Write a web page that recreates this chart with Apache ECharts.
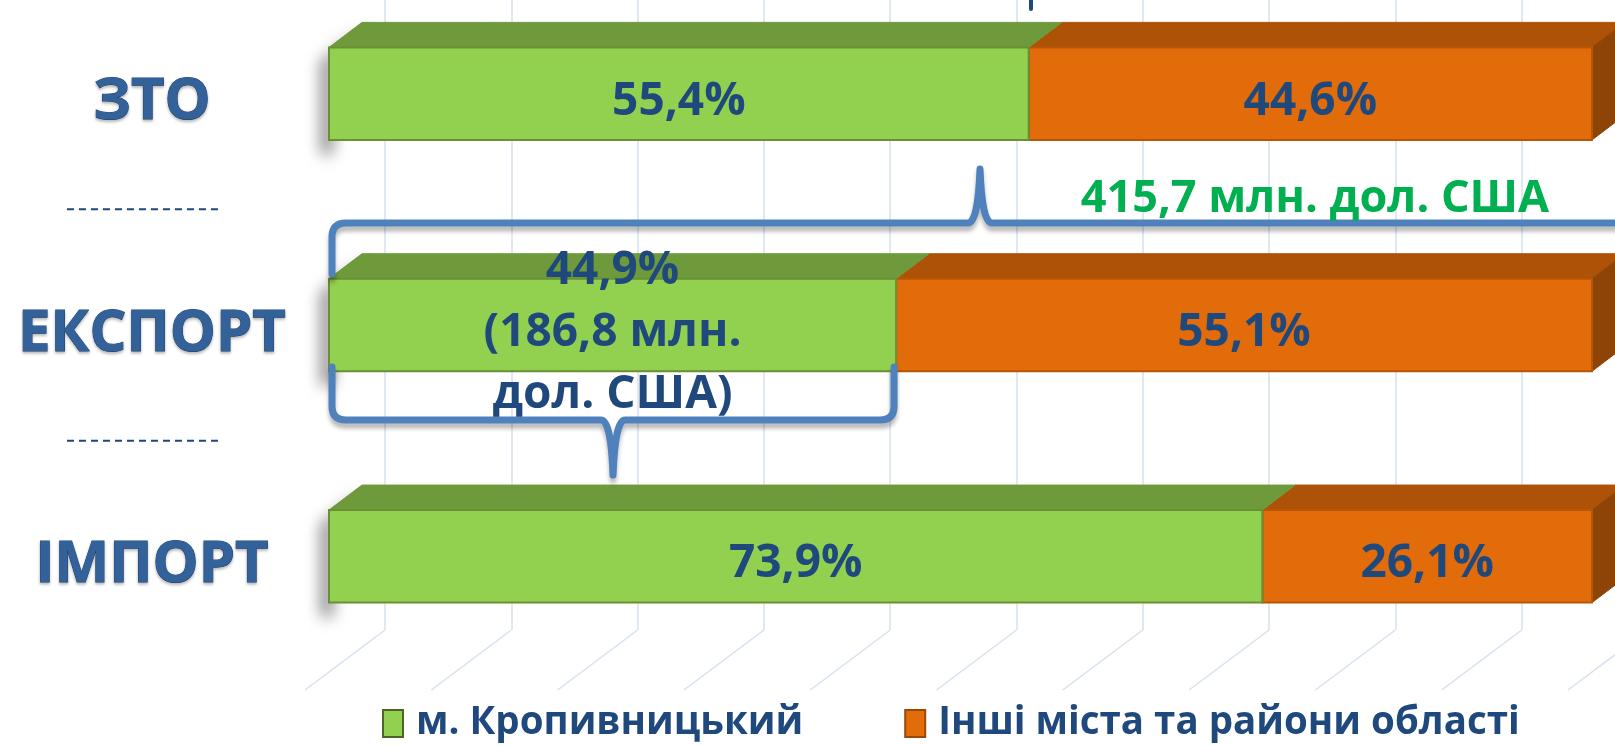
<!DOCTYPE html>
<html>
<head>
<meta charset="utf-8">
<script src="https://cdn.jsdelivr.net/npm/echarts@6/dist/echarts.min.js"></script>
<style>
  html, body { margin: 0; padding: 0; background: #fff; }
  #chart { width: 1615px; height: 746px; }
</style>
</head>
<body>
<div id="chart"></div>
<script>
// Дані діаграми
const categories = ['ЗТО', 'ЕКСПОРТ', 'ІМПОРТ'];
const seriesNames = ['м. Кропивницький', 'Інші міста та райони області'];
const cityShare = [55.4, 44.9, 73.9];
const otherShare = [44.6, 55.1, 26.1];
const exportCityAmount = 186.8;   // млн. дол. США
const exportTotal = 415.7;        // млн. дол. США
const gridTicks = [0, 10, 20, 30, 40, 50, 60, 70, 80, 90, 100];

const FONT = '"Open Sans", "Noto Sans", sans-serif';
const DEPTH_X = 33, DEPTH_Y = 25;

const faces = [
    { front: '#92d050', top: '#6f9a3b', side: '#5f8630', border: '#6a8f34' },
    { front: '#e26b0a', top: '#ad5206', side: '#8e4406', border: '#b85608' }
];

function fmt(v) {
    return v.toFixed(1).replace('.', ',');
}

function labelFor(serieIdx, catIdx, value) {
    if (serieIdx === 0 && categories[catIdx] === 'ЕКСПОРТ') {
        return fmt(value) + '%\n(' + fmt(exportCityAmount) + ' млн.\nдол. США)';
    }
    return fmt(value) + '%';
}

// 3D-сегмент смуги: фронт, верх, бокова грань
function makeRender(serieIdx, isLast) {
    const c = faces[serieIdx];
    return function (params, api) {
        const start = api.value(0), end = api.value(1), cat = api.value(2);
        const p0 = api.coord([start, cat]);
        const p1 = api.coord([end, cat]);
        const h = api.size([0, 1])[1] * 0.4;
        const x0 = p0[0], x1 = p1[0];
        const yT = p0[1] - h / 2, yB = p0[1] + h / 2;
        const children = [];
        if (start === 0) {
            // м'яка тінь зліва
            children.push({
                type: 'polygon',
                shape: { points: [[x0, yT], [x0 + DEPTH_X, yT - DEPTH_Y], [x0 + DEPTH_X + 10, yT - DEPTH_Y], [x0 + 10, yT], [x0 + 10, yB], [x0, yB]] },
                style: { fill: c.top, shadowBlur: 16, shadowColor: 'rgba(0,0,0,0.6)', shadowOffsetX: -7, shadowOffsetY: 14 }
            });
        }
        children.push({
            type: 'polygon',
            shape: { points: [[x0, yT], [x1, yT], [x1 + DEPTH_X, yT - DEPTH_Y], [x0 + DEPTH_X, yT - DEPTH_Y]] },
            style: { fill: c.top, stroke: c.top, lineWidth: 1 }
        });
        if (isLast) {
            children.push({
                type: 'polygon',
                shape: { points: [[x1, yT], [x1 + DEPTH_X, yT - DEPTH_Y], [x1 + DEPTH_X, yB - DEPTH_Y], [x1, yB]] },
                style: { fill: c.side, stroke: c.side, lineWidth: 1 }
            });
        }
        children.push({
            type: 'rect',
            shape: { x: x0, y: yT, width: x1 - x0, height: h },
            style: { fill: c.front, stroke: c.border, lineWidth: 2 }
        });
        children.push({
            type: 'text',
            style: {
                text: labelFor(serieIdx, cat, api.value(3)),
                x: (x0 + x1) / 2, y: p0[1] + 8,
                align: 'center', verticalAlign: 'middle',
                fontSize: 46, fontWeight: 'bold', fontFamily: FONT,
                lineHeight: 62, fill: '#1f497d'
            }
        });
        return { type: 'group', children: children };
    };
}

// фігурна дужка: [початок, кінець, категорія, напрям]
function bracePath(x0, x1, yEnd, yH, yTip) {
    const s = yEnd > yH ? 1 : -1, r = 14, xm = (x0 + x1) / 2;
    return 'M' + x0 + ' ' + yEnd + ' L' + x0 + ' ' + (yH + s * r) +
        ' Q' + x0 + ' ' + yH + ' ' + (x0 + r) + ' ' + yH +
        ' L' + (xm - 12) + ' ' + yH +
        ' Q' + (xm - 2) + ' ' + yH + ' ' + xm + ' ' + yTip +
        ' Q' + (xm + 2) + ' ' + yH + ' ' + (xm + 12) + ' ' + yH +
        ' L' + (x1 - r) + ' ' + yH +
        ' Q' + x1 + ' ' + yH + ' ' + x1 + ' ' + (yH + s * r) +
        ' L' + x1 + ' ' + yEnd;
}

function renderBrace(params, api) {
    const start = api.value(0), end = api.value(1), cat = api.value(2), dir = api.value(3);
    const p0 = api.coord([start, cat]);
    const p1 = api.coord([end, cat]);
    const x0 = p0[0] + 3;
    const x1 = end >= 100 ? p1[0] + 36 : p1[0] - 2;
    const yc = p0[1];
    const d = dir < 0
        ? bracePath(x0, x1, yc - 51, yc - 102, yc - 156)
        : bracePath(x0, x1, yc + 42, yc + 95, yc + 150);
    return {
        type: 'path',
        shape: { pathData: d },
        style: {
            stroke: '#4f81bd', lineWidth: 7, fill: null, lineCap: 'round', lineJoin: 'round',
            shadowColor: 'rgba(0,0,0,0.28)', shadowBlur: 4, shadowOffsetY: 5
        }
    };
}

const cityData = categories.map((_, i) => [0, cityShare[i], i, cityShare[i]]);
const otherData = categories.map((_, i) => [cityShare[i], cityShare[i] + otherShare[i], i, otherShare[i]]);
const exportIdx = categories.indexOf('ЕКСПОРТ');
const braceData = [
    [0, cityShare[exportIdx] + otherShare[exportIdx], exportIdx, -1],
    [0, cityShare[exportIdx], exportIdx, 1]
];

const chart = echarts.init(document.getElementById('chart'));

chart.setOption({
    backgroundColor: '#ffffff',
    animation: false,
    grid: [
        { left: 329, width: 1263, top: -22, height: 694, outerBoundsMode: 'none' },
        { left: 385, width: 1263, top: 0, height: 630, outerBoundsMode: 'none' }
    ],
    xAxis: [
        { gridIndex: 0, type: 'value', min: 0, max: 100, show: false },
        {
            gridIndex: 1, type: 'value', min: 0, max: 100, interval: 10,
            axisLine: { show: false }, axisTick: { show: false }, axisLabel: { show: false },
            splitLine: { show: true, lineStyle: { color: '#d6e1f0', width: 1.5 } }
        }
    ],
    yAxis: [
        {
            gridIndex: 0, type: 'category', inverse: true, data: categories,
            axisLine: { show: false }, axisTick: { show: false },
            axisLabel: {
                margin: 177, align: 'center',
                formatter: v => '{c|' + v + '}',
                rich: {
                    c: {
                        padding: [18, 0, 0, 0], align: 'center',
                        fontSize: 58, fontWeight: 'bold', fontFamily: FONT,
                        color: '#33619a', textBorderColor: '#234a78', textBorderWidth: 1,
                        textShadowColor: 'rgba(0,0,0,0.25)', textShadowBlur: 3, textShadowOffsetY: 2
                    }
                }
            }
        },
        { gridIndex: 1, type: 'value', min: 0, max: 1, show: false }
    ],
    legend: {
        left: 377, top: 699,
        itemWidth: 20, itemHeight: 27, itemGap: 101, icon: 'rect',
        textStyle: { fontSize: 38.5, fontWeight: 'bold', color: '#1f497d', fontFamily: FONT, padding: [0, 0, 0, 8] },
        data: seriesNames
    },
    series: [
        {
            name: 'floor', type: 'custom', xAxisIndex: 1, yAxisIndex: 1, clip: false, silent: true, z: 1,
            data: gridTicks.map(v => [v]),
            renderItem: function (params, api) {
                const p = api.coord([api.value(0), 0]);
                return {
                    type: 'line',
                    shape: { x1: p[0], y1: p[1], x2: p[0] - 80, y2: p[1] + 60 },
                    style: { stroke: '#d6e1f0', lineWidth: 1.5 }
                };
            }
        },
        {
            name: seriesNames[0], type: 'custom', xAxisIndex: 0, yAxisIndex: 0, clip: false, z: 3,
            itemStyle: { color: faces[0].front, borderColor: '#4f6228', borderWidth: 2 },
            data: cityData, renderItem: makeRender(0, false)
        },
        {
            name: seriesNames[1], type: 'custom', xAxisIndex: 0, yAxisIndex: 0, clip: false, z: 2,
            itemStyle: { color: faces[1].front, borderColor: '#984807', borderWidth: 2 },
            data: otherData, renderItem: makeRender(1, true)
        },
        {
            name: 'braces', type: 'custom', xAxisIndex: 0, yAxisIndex: 0, clip: false, silent: true, z: 10,
            data: braceData, renderItem: renderBrace
        }
    ]
});

const yExp = chart.convertToPixel({ yAxisIndex: 0 }, 'ЕКСПОРТ');
const yZto = chart.convertToPixel({ yAxisIndex: 0 }, 'ЗТО');
const yImp = chart.convertToPixel({ yAxisIndex: 0 }, 'ІМПОРТ');
const dashStyle = { stroke: '#1f497d', lineWidth: 2, lineDash: [7, 5] };

chart.setOption({
    graphic: [
        {
            type: 'text', z: 100, x: 1315, y: yExp - 126,
            style: {
                text: fmt(exportTotal) + ' млн. дол. США',
                align: 'center', verticalAlign: 'middle',
                fontSize: 45, fontWeight: 'bold', fontFamily: FONT, fill: '#00b050'
            }
        },
        // обрізаний край заголовка над діаграмою
        { type: 'line', shape: { x1: 1031, y1: 0, x2: 1031, y2: 9 }, style: { stroke: '#1f497d', lineWidth: 4, lineCap: 'round' } },
        { type: 'line', shape: { x1: 67, y1: (yZto + yExp) / 2, x2: 221, y2: (yZto + yExp) / 2 }, style: dashStyle },
        { type: 'line', shape: { x1: 67, y1: (yExp + yImp) / 2, x2: 221, y2: (yExp + yImp) / 2 }, style: dashStyle }
    ]
});
</script>
</body>
</html>
